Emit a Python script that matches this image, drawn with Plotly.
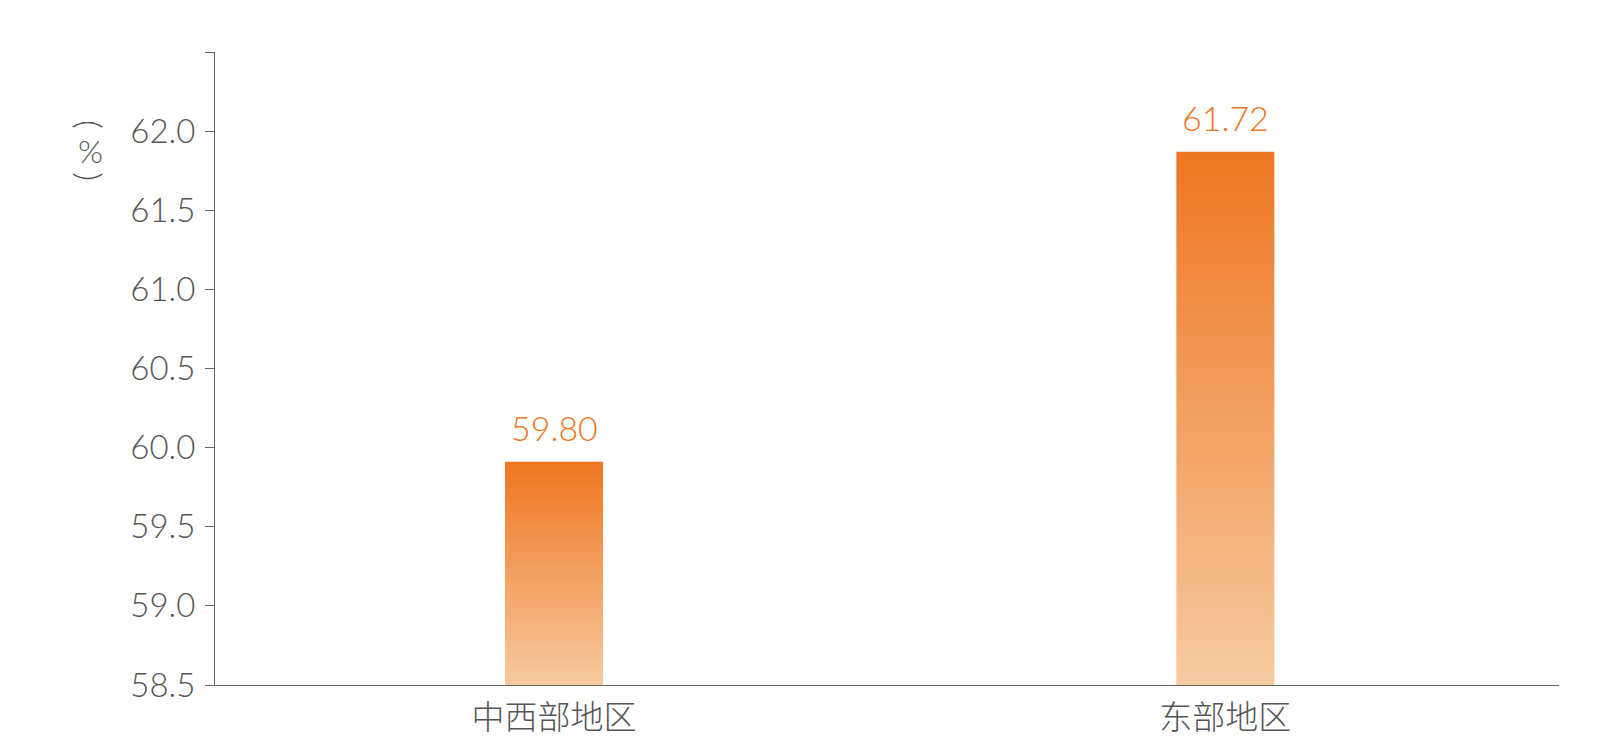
import plotly.graph_objects as go

# ---- data ----
categories = ["中西部地区", "东部地区"]
bar_values = [59.91, 61.87]          # bar tops as drawn in the picture
label_text = ["59.80", "61.72"]      # value labels printed above the bars
y_ticks = [58.5, 59.0, 59.5, 60.0, 60.5, 61.0, 61.5, 62.0, 62.5]
y_tick_labels = ["58.5", "59.0", "59.5", "60.0", "60.5", "61.0", "61.5", "62.0", ""]
unit_label = "%"

Y_MIN, Y_MAX = 58.5, 62.5
HALF_W = 0.073
DARK = "#EE7722"
LIGHT = "#F8CBA2"
AXIS_COLOR = "#666666"
TEXT_COLOR = "#555555"
FONT = "Lato, 'Noto Sans CJK SC', sans-serif"

fig = go.Figure()

for i, v in enumerate(bar_values):
    xs = [i - HALF_W, i + HALF_W, i + HALF_W, i - HALF_W, i - HALF_W]
    ys = [Y_MIN, Y_MIN, v, v, Y_MIN]
    fig.add_trace(go.Scatter(
        x=xs, y=ys, mode="lines", fill="toself",
        line=dict(width=0, color="rgba(0,0,0,0)"),
        fillgradient=dict(type="vertical", colorscale=[[0, LIGHT], [1, DARK]],
                          start=Y_MIN, stop=v),
        hoverinfo="skip", showlegend=False,
    ))
    fig.add_annotation(x=i, y=v, text=label_text[i], showarrow=False,
                       yanchor="bottom", yshift=12,
                       font=dict(family=FONT, size=34, color=DARK, weight=300))

# vertical unit label: ︵ % ︶
ux = -0.0925
fig.add_annotation(xref="paper", yref="y", x=ux, y=62.04, text="(", textangle=90,
                   xanchor="center", yanchor="middle", showarrow=False,
                   font=dict(family=FONT, size=34, color=TEXT_COLOR, weight=300))
fig.add_annotation(xref="paper", yref="y", x=ux, y=61.88, text=unit_label,
                   xanchor="center", yanchor="middle", showarrow=False,
                   font=dict(family=FONT, size=32, color=TEXT_COLOR, weight=300))
fig.add_annotation(xref="paper", yref="y", x=ux, y=61.71, text=")", textangle=90,
                   xanchor="center", yanchor="middle", showarrow=False,
                   font=dict(family=FONT, size=34, color=TEXT_COLOR, weight=300))

fig.update_layout(
    width=1600, height=740,
    margin=dict(l=207, r=49, t=44, b=60),
    paper_bgcolor="white", plot_bgcolor="white",
    font=dict(family=FONT, color=TEXT_COLOR),
    xaxis=dict(range=[-0.505, 1.497], tickvals=[0, 1], ticktext=categories,
               showline=True, linecolor=AXIS_COLOR, linewidth=1,
               ticks="", showgrid=False, zeroline=False, layer="below traces",
               tickfont=dict(family=FONT, size=33, color=TEXT_COLOR, weight=300),
               ticklabelstandoff=3),
    yaxis=dict(range=[Y_MIN, Y_MAX], tickvals=y_ticks, ticktext=y_tick_labels,
               showline=True, linecolor=AXIS_COLOR, linewidth=1,
               ticks="outside", ticklen=9, tickcolor=AXIS_COLOR,
               showgrid=False, zeroline=False,
               tickfont=dict(family=FONT, size=33, color=TEXT_COLOR, weight=300),
               ticklabelstandoff=3),
)

fig.write_html("out.html")
